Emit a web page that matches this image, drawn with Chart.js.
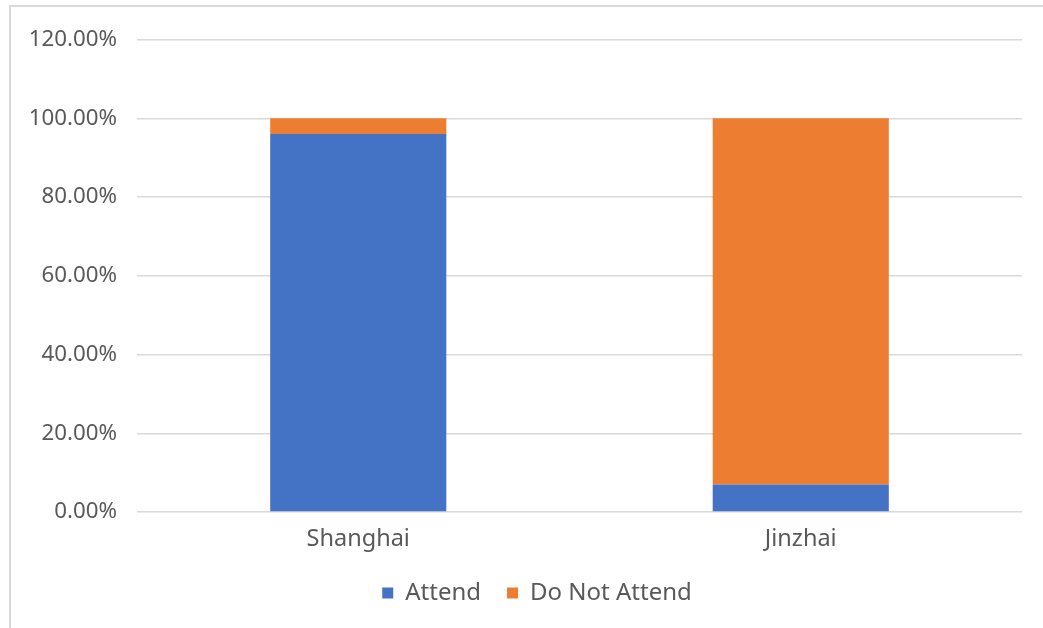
<!DOCTYPE html>
<html>
<head>
<meta charset="utf-8">
<script src="https://cdn.jsdelivr.net/npm/chart.js@4.4.1/dist/chart.umd.min.js"></script>
<style>
  html, body { margin: 0; padding: 0; background: #ffffff; }
  #wrap { width: 1043px; height: 628px; position: relative; }
</style>
</head>
<body>
<div id="wrap"><canvas id="chart" width="1043" height="628"></canvas></div>
<script>
// Share of respondents who attend, by location
const categories = ['Shanghai', 'Jinzhai'];
const attend = [0.96, 0.07];
const doNotAttend = [0.04, 0.93];
const seriesNames = ['Attend', 'Do Not Attend'];

const textColor = '#595959';
const gridColor = '#d9d9d9';
const fontFamily = '"Noto Sans", "Liberation Sans", sans-serif';

// Light frame along the top and left edges of the chart
const framePlugin = {
  id: 'frame',
  beforeDraw(chart) {
    const ctx = chart.ctx;
    ctx.save();
    ctx.fillStyle = '#ffffff';
    ctx.fillRect(0, 0, chart.width, chart.height);
    ctx.strokeStyle = '#d9d9d9';
    ctx.lineWidth = 2;
    ctx.beginPath();
    ctx.moveTo(10, chart.height);
    ctx.lineTo(10, 6);
    ctx.lineTo(chart.width, 6);
    ctx.stroke();
    ctx.restore();
  }
};

// Center the legend under the plot area rather than the whole canvas
const legendShiftPlugin = {
  id: 'legendShift',
  afterLayout(chart) {
    const lg = chart.legend;
    if (!lg) return;
    const shift = 26;
    lg.left += shift;
    lg.right += shift;
  }
};

new Chart(document.getElementById('chart'), {
  type: 'bar',
  data: {
    labels: categories,
    datasets: [
      { label: seriesNames[0], data: attend, backgroundColor: '#4472c4' },
      { label: seriesNames[1], data: doNotAttend, backgroundColor: '#ed7d31' }
    ]
  },
  options: {
    responsive: false,
    animation: false,
    layout: { padding: { top: 39.5, right: 21, bottom: 13, left: 0 } },
    datasets: {
      bar: { categoryPercentage: 1.0, barPercentage: 0.398 }
    },
    scales: {
      x: {
        stacked: true,
        grid: { display: false, drawTicks: false },
        border: { display: false },
        ticks: {
          color: textColor,
          padding: 13,
          font: { family: fontFamily, size: 23.5 }
        },
        afterFit(scale) { scale.height = 43; }
      },
      y: {
        stacked: true,
        min: 0,
        max: 1.2,
        grid: { color: gridColor, lineWidth: 1.5, drawTicks: false },
        border: { display: false },
        ticks: {
          stepSize: 0.2,
          color: textColor,
          padding: 20,
          font: { family: fontFamily, size: 22.3 },
          callback: (v) => (v * 100).toFixed(2) + '%'
        },
        afterFit(scale) { scale.width = 137; }
      }
    },
    plugins: {
      legend: {
        position: 'bottom',
        labels: {
          boxWidth: 11,
          boxHeight: 11,
          padding: 26,
          color: textColor,
          font: { family: fontFamily, size: 24 }
        }
      },
      tooltip: { enabled: false }
    }
  },
  plugins: [framePlugin, legendShiftPlugin]
});
</script>
</body>
</html>
